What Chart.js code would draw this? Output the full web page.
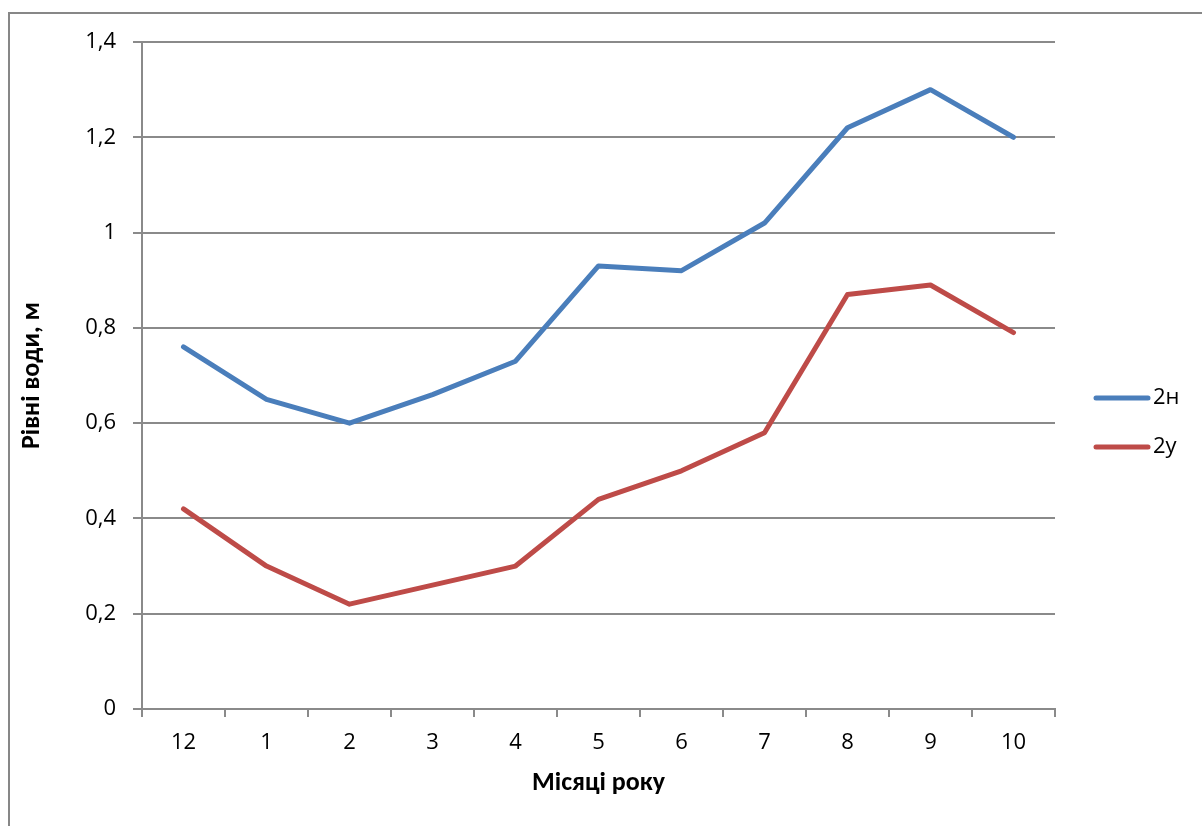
<!DOCTYPE html>
<html>
<head>
<meta charset="utf-8">
<script src="https://cdn.jsdelivr.net/npm/chart.js@4/dist/chart.umd.min.js"></script>
<style>
  html, body { margin: 0; padding: 0; background: #fff; overflow: hidden; }
  .frame { position: absolute; left: 8px; top: 12px; width: 1300px; height: 900px; border: 2px solid #878787; }
  canvas { position: absolute; left: 0; top: 0; }
</style>
</head>
<body>
<div class="frame"></div>
<canvas id="levels" width="1202" height="826"></canvas>
<script>
const months = ['12', '1', '2', '3', '4', '5', '6', '7', '8', '9', '10'];
const level2n = [0.76, 0.65, 0.60, 0.66, 0.73, 0.93, 0.92, 1.02, 1.22, 1.30, 1.20];
const level2u = [0.42, 0.30, 0.22, 0.26, 0.30, 0.44, 0.50, 0.58, 0.87, 0.89, 0.79];
const seriesNames = ['2н', '2у'];

const TITLE_FONT = "Carlito, Lato, 'Noto Sans', sans-serif";
const TICK_FONT = "'Open Sans', sans-serif";
const gridColor = '#8a8a8a';

// legend on the right: short thick line + name
const sideLegend = {
  id: 'sideLegend',
  afterDraw(chart) {
    const ctx = chart.ctx;
    const rows = [398, 447];
    ctx.save();
    chart.data.datasets.forEach((ds, i) => {
      const y = rows[i];
      ctx.strokeStyle = ds.borderColor;
      ctx.lineWidth = 5;
      ctx.lineCap = 'round';
      ctx.beginPath();
      ctx.moveTo(1096, y);
      ctx.lineTo(1148, y);
      ctx.stroke();
      ctx.fillStyle = '#000';
      ctx.font = '22px ' + TICK_FONT;
      ctx.textBaseline = 'middle';
      ctx.fillText(ds.label, 1153, y);
    });
    ctx.restore();
  }
};

new Chart(document.getElementById('levels'), {
  type: 'line',
  data: {
    labels: months,
    datasets: [
      {
        label: seriesNames[0],
        data: level2n,
        borderColor: '#4a7ebb',
        borderWidth: 5,
        pointRadius: 0,
        tension: 0,
        borderCapStyle: 'round',
        borderJoinStyle: 'round'
      },
      {
        label: seriesNames[1],
        data: level2u,
        borderColor: '#be4b48',
        borderWidth: 5,
        pointRadius: 0,
        tension: 0,
        borderCapStyle: 'round',
        borderJoinStyle: 'round'
      }
    ]
  },
  options: {
    responsive: false,
    animation: false,
    devicePixelRatio: 1,
    layout: { padding: { top: 42, right: 147, bottom: 0, left: 0 } },
    plugins: {
      legend: { display: false },
      tooltip: { enabled: false }
    },
    scales: {
      x: {
        offset: true,
        afterFit: s => { s.height = 117; },
        grid: { offset: true, drawOnChartArea: false, drawTicks: true, tickLength: 8, color: gridColor, lineWidth: 2 },
        border: { color: gridColor, width: 2 },
        ticks: { color: '#000', padding: 13, font: { family: TICK_FONT, size: 22 } },
        title: {
          display: true,
          text: 'Місяці року',
          color: '#000',
          font: { family: TITLE_FONT, size: 26, weight: 'bold' },
          padding: { top: 0, bottom: 27 }
        }
      },
      y: {
        min: 0,
        max: 1.4,
        afterFit: s => { s.width = 142; },
        grid: { color: gridColor, lineWidth: 2, tickLength: 9 },
        border: { color: gridColor, width: 2 },
        ticks: {
          stepSize: 0.2,
          color: '#000',
          padding: 17,
          font: { family: TICK_FONT, size: 22 },
          callback: v => String(+v.toFixed(1)).replace('.', ',')
        },
        title: {
          display: true,
          text: 'Рівні води, м',
          color: '#000',
          font: { family: TITLE_FONT, size: 26, weight: 'bold' },
          padding: { top: 17, bottom: 0 }
        }
      }
    }
  },
  plugins: [sideLegend]
});
</script>
</body>
</html>
